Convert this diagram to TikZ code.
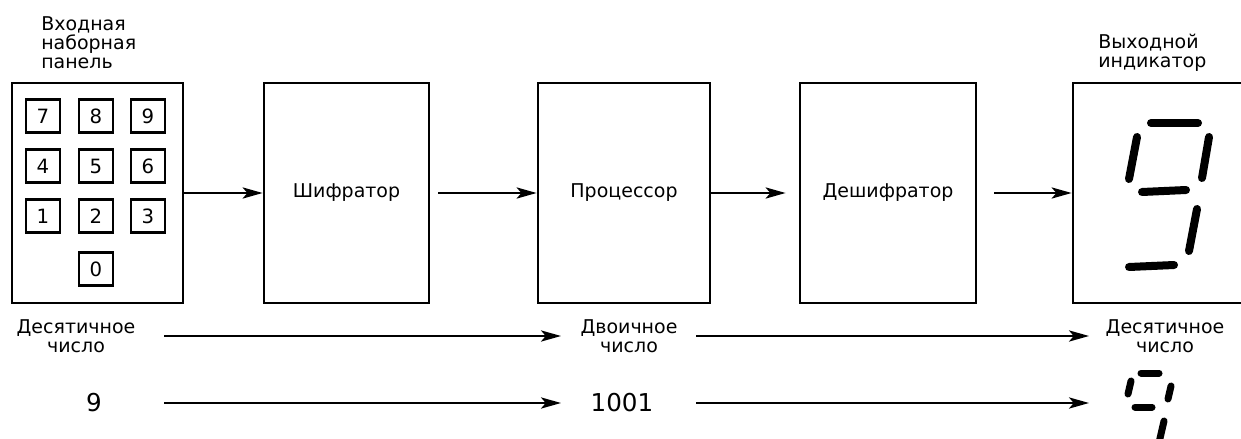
\documentclass[tikz,border=0pt]{standalone}
\usepackage{fontspec}
\setmainfont{DejaVu Sans}
\usetikzlibrary{arrows.meta}

\begin{document}
\begin{tikzpicture}[x=0.025cm,y=-0.025cm,
    blk/.style={draw,line width=2pt,minimum width=#1,minimum height=5.5cm,inner sep=0pt,
      font=\fontsize{13.5}{13.4}\selectfont},
    key/.style={draw,line width=1.8pt,minimum width=0.85cm,minimum height=0.83cm,inner sep=0pt,
      font=\fontsize{14}{14}\selectfont},
    lbl/.style={align=center,inner sep=0pt,font=\fontsize{13.5}{13.4}\selectfont},
    num/.style={inner sep=0pt,font=\fontsize{17.5}{18}\selectfont},
    arr/.style={line width=1.6pt,-{Stealth[length=5mm,width=2.8mm,inset=1.2mm]}},
    seg/.style={line width=0.2cm,line cap=round}]

      \useasboundingbox (0,0) rectangle (1241,439);

      % blocks
      \node[lbl,align=left,anchor=west] (inlbl) at (41,43) {Входная\\наборная\\панель};
      \node[blk=4.275cm] (pad) at (97.5,193) {};
      \node[blk=4.125cm] (enc) at (346.5,193) {Шифратор};
      \node[blk=4.3cm] (cpu) at (624,193) {Процессор};
      \node[blk=4.4cm] (dec) at (888,193) {Дешифратор};
      \node[blk=4.425cm] (disp) at (1161.5,193) {};
      \node[lbl,align=left,anchor=west] (outlbl) at (1098,53) {Выходной\\индикатор};

      % keys
      \node[key] (k7) at (43,116) {7};
      \node[key] (k8) at (96,116) {8};
      \node[key] (k9) at (148,116) {9};
      \node[key] (k4) at (43,166) {4};
      \node[key] (k5) at (96,166) {5};
      \node[key] (k6) at (148,166) {6};
      \node[key] (k1) at (43,216) {1};
      \node[key] (k2) at (96,216) {2};
      \node[key] (k3) at (148,216) {3};
      \node[key] (k0) at (96,269) {0};

      \draw[arr] (pad) -- (enc);
      \draw[arr,shorten <=0.2cm] (enc) -- (cpu);
      \draw[arr,shorten >=0.325cm] (cpu) -- (dec);
      \draw[arr,shorten <=0.425cm] (dec) -- (disp);

      % seven segment nine
      \draw[seg] (1151,123) -- (1198,123);
      \draw[seg] (1137,137) -- (1129,179);
      \draw[seg] (1209,137) -- (1202,178);
      \draw[seg] (1142,192) -- (1186,190);
      \draw[seg] (1197,209) -- (1189,251);
      \draw[seg] (1129,267) -- (1174,265);

      % number rows
      \node[lbl] (dec1) at (76,336) {Десятичное\\число};
      \node[lbl] (bin1) at (629,336) {Двоичное\\число};
      \node[lbl] (dec2) at (1165,336) {Десятичное\\число};
      \node[num] (n9) at (94,403) {9};
      \node[num] (n1001) at (622,403) {1001};
      \coordinate (sm9) at (1150,403);

      \draw[arr,shorten <=2.2cm,shorten >=1.7cm] (dec1.center) -- (bin1.center);
      \draw[arr,shorten <=1.675cm,shorten >=1.9cm] (bin1.center) -- (dec2.center);
      \draw[arr,shorten <=1.75cm,shorten >=1.525cm] (n9.center) -- (n1001.center);
      \draw[arr,shorten <=1.85cm,shorten >=1.525cm] (n1001.center) -- (sm9);

      \draw[seg,line width=0.175cm] (1141,373) -- (1159,373);
      \draw[seg,line width=0.175cm] (1131,381) -- (1128,394);
      \draw[seg,line width=0.175cm] (1171,386) -- (1168,399);
      \draw[seg,line width=0.175cm] (1135,407) -- (1152,407);
      \draw[seg,line width=0.175cm] (1164,421) -- (1155,460);

    \end{tikzpicture}
\end{document}
